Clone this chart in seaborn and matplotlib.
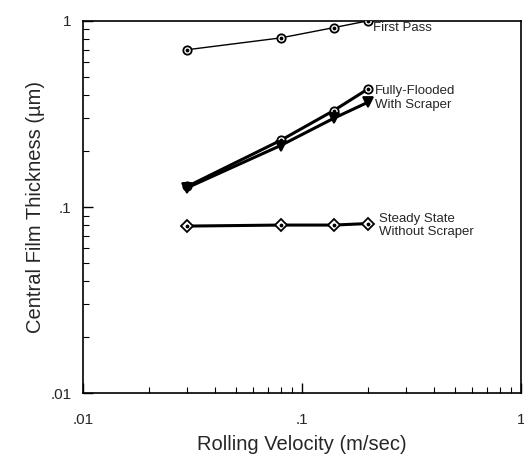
import matplotlib
matplotlib.use("Agg")
import matplotlib.pyplot as plt
import seaborn as sns
import pandas as pd
import numpy as np
from matplotlib.ticker import FixedLocator, LogLocator, NullFormatter

sns.set_style("white")
plt.rcParams['font.family'] = ['Liberation Sans', 'DejaVu Sans']

velocity = [0.03, 0.08, 0.14, 0.2]
first_pass = [0.70, 0.81, 0.92, 1.0]
fully_flooded = [0.129, 0.228, 0.33, 0.43]
with_scraper = [0.127, 0.214, 0.30, 0.365]
steady_state = [0.079, 0.080, 0.080, 0.0815]

series = {
    "First Pass": first_pass,
    "Fully-Flooded": fully_flooded,
    "With Scraper": with_scraper,
    "Steady State": steady_state,
}
df = pd.DataFrame([
    {"v": v, "h": h, "s": name}
    for name, vals in series.items() for v, h in zip(velocity, vals)
])

fig = plt.figure(figsize=(5.24, 4.54), dpi=100)
ax = fig.add_axes([0.158, 0.134, 0.836, 0.820])

styles = {
    "First Pass": dict(marker="o", lw=1.0, ms=6, mfc="white", dot=True),
    "Fully-Flooded": dict(marker="o", lw=2.2, ms=6, mfc="white", dot=True),
    "With Scraper": dict(marker="v", lw=2.2, ms=7, mfc="black", dot=False),
    "Steady State": dict(marker="D", lw=2.2, ms=6, mfc="white", dot=True),
}
for name, st in styles.items():
    sub = df[df.s == name]
    sns.lineplot(data=sub, x="v", y="h", ax=ax, color="black", lw=st["lw"],
                 marker=st["marker"], markersize=st["ms"], markerfacecolor=st["mfc"],
                 markeredgecolor="black", markeredgewidth=1.3, estimator=None,
                 sort=False, legend=False, zorder=3)
    if st["dot"]:
        ax.scatter(sub.v, sub.h, s=3, color="black", zorder=5)

ax.set_xscale("log")
ax.set_yscale("log")
ax.set_xlim(0.01, 1)
ax.set_ylim(0.01, 1)

ax.xaxis.set_major_locator(FixedLocator([0.01, 0.1, 1]))
ax.yaxis.set_major_locator(FixedLocator([0.01, 0.1, 1]))
ax.set_xticklabels([".01", ".1", "1"])
ax.set_yticklabels([".01", ".1", "1"])
ax.xaxis.set_minor_locator(LogLocator(base=10, subs=np.arange(2, 10)))
ax.yaxis.set_minor_locator(LogLocator(base=10, subs=np.arange(2, 10)))
ax.xaxis.set_minor_formatter(NullFormatter())
ax.yaxis.set_minor_formatter(NullFormatter())
ax.tick_params(which="both", direction="in", top=False, right=False,
               bottom=True, left=True, color="black", labelsize=11)
ax.tick_params(which="major", length=7, width=1)
ax.tick_params(axis="x", which="major", pad=14)
ax.tick_params(axis="y", which="major", pad=8)
ax.tick_params(which="minor", length=4, width=0.8)

for sp in ax.spines.values():
    sp.set_color("black")
    sp.set_linewidth(1.2)

ax.set_xlabel("Rolling Velocity (m/sec)", fontsize=14.5, labelpad=6)
ax.set_ylabel("Central Film Thickness (\u00b5m)", fontsize=14.5, labelpad=4)

ax.text(0.212, 0.915, "First Pass", fontsize=9.5, va="center", ha="left")
ax.text(0.215, 0.45, "Fully-Flooded\nWith Scraper", fontsize=9.5, va="top",
        ha="left", linespacing=1.2)
ax.text(0.225, 0.0795, "Steady State\nWithout Scraper", fontsize=9.5, va="center",
        ha="left", linespacing=1.2)

fig.savefig("out.png", dpi=100)
